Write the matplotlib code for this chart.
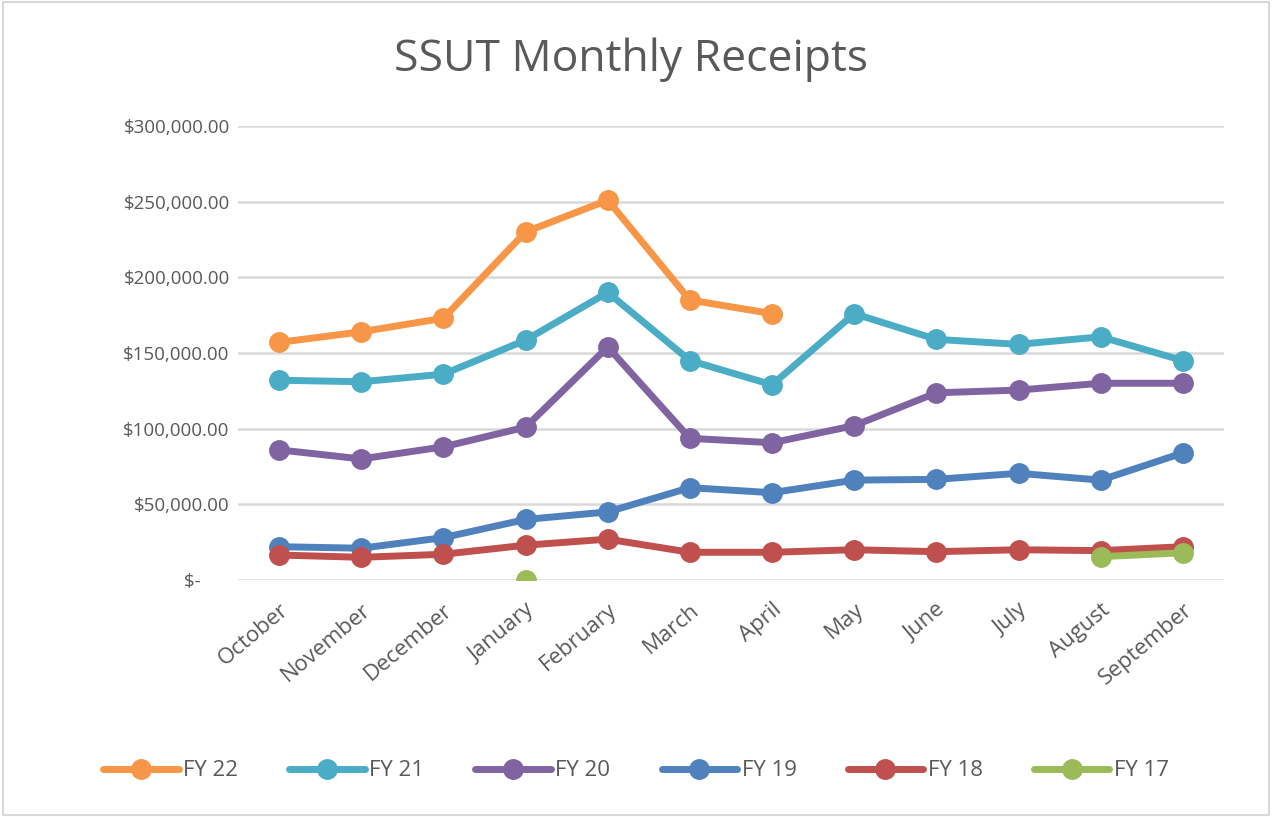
import numpy as np
import matplotlib
matplotlib.use("Agg")
import matplotlib.pyplot as plt
from matplotlib.patches import Rectangle
from matplotlib.ticker import FuncFormatter

plt.rcParams['font.family'] = ['Open Sans', 'DejaVu Sans']

months = ['October', 'November', 'December', 'January', 'February', 'March',
          'April', 'May', 'June', 'July', 'August', 'September']
nan = np.nan

fy22 = [157000, 164000, 173000, 230000, 251000, 185000, 176000, nan, nan, nan, nan, nan]
fy21 = [132000, 131000, 136000, 158500, 190000, 145000, 129000, 176000, 159000, 155700, 160700, 145000]
fy20 = [86000, 80000, 88000, 101000, 154000, 93600, 90700, 102000, 123700, 125500, 130000, 130000]
fy19 = [22000, 21000, 28000, 40000, 45000, 61000, 57700, 66000, 66500, 70500, 66000, 84000]
fy18 = [16500, 15000, 17000, 23000, 27000, 18300, 18300, 20000, 18700, 20000, 19400, 22000]
fy17 = [nan, nan, nan, 0, nan, nan, nan, nan, nan, nan, 15400, 18000]

series = [('FY 22', fy22, '#F79646'),
          ('FY 21', fy21, '#4BACC6'),
          ('FY 20', fy20, '#8064A2'),
          ('FY 19', fy19, '#4F81BD'),
          ('FY 18', fy18, '#C0504D'),
          ('FY 17', fy17, '#9BBB59')]

text_color = '#595959'

fig = plt.figure(figsize=(12.72, 8.17), dpi=100)
ax = fig.add_axes([238 / 1272, 1 - 580 / 817, (1224 - 238) / 1272, (580 - 126) / 817])

x = np.arange(len(months))
for label, vals, color in series:
    ax.plot(x, vals, color=color, lw=5, marker='o', markersize=14,
            label=label, solid_capstyle='round', zorder=3)

ax.set_xlim(-0.5, len(months) - 0.5)
ax.set_ylim(0, 300000)
ax.set_yticks(np.arange(0, 300001, 50000))


def money(v, pos):
    if v == 0:
        return '$-      '
    return '${:,.2f}'.format(v)


ax.yaxis.set_major_formatter(FuncFormatter(money))
ax.set_xticks(x)
ax.set_xticklabels(months, rotation=40, ha='right', rotation_mode='anchor')
ax.tick_params(axis='y', length=0, labelsize=13.5, colors=text_color, pad=6)
ax.tick_params(axis='x', length=0, labelsize=16, colors=text_color, pad=14)
ax.grid(axis='y', color='#D9D9D9', lw=1.8, zorder=0)
for s in ax.spines.values():
    s.set_visible(False)

fig.text(0.496, 1 - 60 / 817, 'SSUT Monthly Receipts', ha='center', va='center',
         fontsize=32, color=text_color)

fig.legend(loc='center', bbox_to_anchor=(0.5, 1 - 771 / 817), ncol=6, frameon=False,
           fontsize=16, labelcolor=text_color, handlelength=3.4, handletextpad=0.2,
           columnspacing=2.3)

fig.patches.append(Rectangle((0.002, 0.003), 0.996, 0.994, transform=fig.transFigure,
                             fill=False, edgecolor='#D9D9D9', lw=1.5))

fig.savefig('out.png', dpi=100)
